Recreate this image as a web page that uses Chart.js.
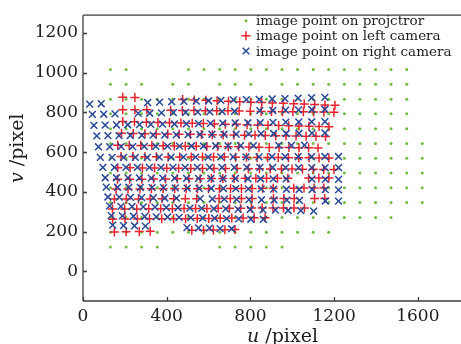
<!DOCTYPE html>
<html lang="en">
<head>
<meta charset="UTF-8">
<title>image points</title>
<style>
  html, body { margin: 0; padding: 0; overflow: hidden; background: #fff; }
  #wrap { width: 466px; height: 344px; }
</style>
</head>
<body>
<div id="wrap"><canvas id="myChart"></canvas></div>
<script src="https://cdn.jsdelivr.net/npm/chart.js"></script>
<script>
const xTicks = [0, 400, 800, 1200, 1600];
const yTicks = [0, 200, 400, 600, 800, 1000, 1200];
const seriesNames = ["image point on projctror", "image point on left camera", "image point on right camera"];

// projector grid: column positions, row positions, and which columns show in each row
const projCols = [131, 206, 280, 355, 429, 504, 578, 653, 727, 802, 876, 951, 1025, 1100, 1174, 1249, 1323, 1398, 1472, 1547, 1621];
const projRowY = [1016, 942, 867, 793, 718, 644, 569, 495, 420, 346, 271, 197, 122];
const projRowCols = [
  [0, 1, 5, 6, 7, 8, 9, 10, 11, 12, 13, 14, 15, 16, 17, 18, 19],
  [0, 1, 2, 4, 5, 7, 8, 9, 11, 12, 13, 14, 15, 16, 17, 18, 19],
  [0, 1, 2, 3, 4, 5, 6, 7, 8, 9, 10, 11, 12, 13, 14, 15, 16, 17, 18, 19],
  [0, 1, 2, 3, 4, 5, 6, 7, 8, 9, 10, 11, 12, 13, 14, 15, 16, 17, 18, 19],
  [0, 1, 2, 3, 4, 5, 6, 7, 8, 9, 10, 11, 12, 13, 14, 15, 16, 17, 18, 19],
  [0, 1, 2, 3, 4, 5, 6, 7, 8, 9, 10, 11, 12, 13, 14, 15, 16, 17, 18, 19, 20],
  [0, 1, 2, 3, 4, 5, 6, 7, 8, 9, 10, 11, 12, 13, 14, 15, 16, 17, 18, 19, 20],
  [0, 1, 2, 3, 4, 5, 6, 7, 8, 9, 10, 11, 12, 13, 14, 15, 16, 17, 18, 19, 20],
  [0, 1, 2, 3, 4, 5, 6, 7, 8, 9, 10, 11, 12, 13, 14, 15, 16, 17, 18, 19, 20],
  [0, 1, 2, 3, 4, 5, 6, 7, 8, 9, 10, 11, 12, 13, 14, 15, 16, 17, 18, 19, 20],
  [0, 1, 2, 3, 4, 5, 6, 7, 8, 9, 10, 11, 12, 13, 14, 15, 16, 17, 18],
  [0, 1, 2, 3, 4, 5, 6, 7, 8, 9, 10, 11, 12, 13, 14],
  [0, 1, 2, 3, 7, 8, 9, 10, 11]
];

// left camera (red +), one row per line: [x values], [y values]
const leftCamRows = [
  [[190, 248, 476, 532, 587, 641, 695, 749, 802, 854, 905, 957, 1007, 1057, 1107, 1156, 1204], [877, 875, 865, 863, 861, 859, 857, 854, 852, 850, 848, 846, 844, 842, 840, 838, 836]],
  [[190, 248, 305, 419, 475, 530, 585, 639, 693, 746, 799, 851, 901, 953, 1003, 1053, 1102, 1151, 1199], [814, 813, 813, 811, 810, 810, 809, 808, 808, 807, 806, 805, 805, 804, 804, 803, 802, 802, 801]],
  [[190, 246, 303, 358, 413, 468, 522, 575, 628, 680, 733, 784, 835, 884, 935, 983, 1032, 1080, 1128, 1175], [754, 753, 751, 750, 748, 747, 745, 744, 742, 741, 740, 738, 737, 736, 734, 733, 732, 730, 729, 728]],
  [[184, 240, 296, 350, 405, 459, 513, 566, 618, 670, 721, 772, 822, 871, 921, 970, 1018, 1066, 1113, 1159], [695, 694, 693, 692, 691, 690, 690, 689, 688, 687, 686, 685, 685, 684, 683, 682, 681, 680, 680, 679]],
  [[166, 221, 276, 329, 383, 436, 489, 541, 592, 643, 694, 744, 793, 841, 890, 937, 984, 1032, 1078, 1123], [635, 634, 633, 633, 632, 631, 630, 630, 629, 628, 627, 627, 626, 625, 624, 624, 623, 622, 622, 621]],
  [[182, 239, 296, 351, 407, 462, 517, 571, 624, 676, 729, 781, 832, 882, 933, 982, 1031, 1080, 1128, 1175], [578, 578, 577, 577, 576, 576, 576, 575, 575, 575, 574, 574, 573, 573, 573, 572, 572, 572, 571, 571]],
  [[166, 225, 284, 342, 400, 457, 515, 571, 626, 681, 736, 790, 843, 895, 948, 999, 1049, 1100, 1150, 1199], [521, 521, 520, 520, 519, 519, 518, 518, 517, 517, 517, 516, 516, 515, 515, 515, 514, 514, 513, 513]],
  [[165, 223, 281, 337, 394, 450, 506, 560, 614, 668, 722, 775, 826, 877, 929, 979, 1078, 1127, 1175], [464, 464, 464, 465, 465, 466, 466, 466, 467, 467, 467, 468, 468, 468, 469, 469, 470, 470, 470]],
  [[158, 215, 272, 327, 383, 438, 493, 547, 600, 652, 705, 757, 808, 858, 909, 1007, 1056, 1104, 1151], [414, 414, 414, 415, 415, 415, 416, 416, 416, 416, 417, 417, 417, 418, 418, 418, 419, 419, 419]],
  [[150, 207, 265, 321, 378, 433, 489, 543, 650, 704, 757, 808, 910, 960, 1009, 1107, 1155], [364, 364, 364, 364, 365, 365, 365, 365, 366, 366, 366, 366, 366, 367, 367, 367, 367]],
  [[141, 199, 257, 314, 371, 427, 483, 538, 592, 646, 700, 753, 805, 856, 908, 958, 1008, 1058], [314, 314, 314, 315, 315, 315, 316, 316, 316, 317, 317, 317, 318, 318, 318, 319, 319, 319]],
  [[142, 201, 260, 318, 376, 433, 490, 546, 601, 656, 711, 765, 818, 870], [262, 263, 263, 264, 264, 265, 265, 266, 266, 267, 268, 268, 269, 270]],
  [[150, 206, 269, 321, 520, 576, 623, 678, 726], [198, 199, 200, 201, 206, 207, 208, 209, 210]]
];

// right camera (blue x)
const rightCamRows = [
  [[32, 87, 309, 366, 424, 482, 541, 600, 659, 719, 781, 842, 904, 965, 1028, 1092, 1156], [842, 844, 850, 852, 854, 856, 857, 859, 861, 863, 865, 866, 868, 870, 872, 874, 876]],
  [[45, 99, 153, 264, 319, 375, 432, 490, 548, 606, 665, 724, 845, 907, 968, 1030, 1093, 1156], [790, 791, 793, 795, 796, 798, 799, 800, 802, 803, 805, 806, 809, 810, 812, 813, 815, 816]],
  [[52, 106, 160, 214, 270, 324, 380, 437, 494, 552, 609, 668, 727, 788, 847, 908, 969, 1031, 1093, 1156], [735, 736, 737, 738, 739, 740, 741, 742, 743, 744, 745, 746, 747, 748, 749, 750, 751, 752, 753, 754]],
  [[66, 119, 172, 226, 281, 335, 390, 446, 502, 559, 616, 674, 732, 792, 851, 911, 971, 1032, 1094, 1156], [682, 683, 683, 684, 685, 686, 686, 687, 688, 689, 690, 690, 691, 692, 693, 694, 694, 695, 696, 697]],
  [[74, 128, 182, 237, 293, 348, 404, 461, 518, 576, 634, 693, 753, 814, 935, 996, 1058], [627, 627, 628, 628, 629, 629, 630, 630, 631, 631, 632, 632, 633, 633, 634, 634, 635]],
  [[83, 139, 194, 250, 307, 364, 421, 480, 538, 598, 658, 718, 779, 841, 903, 966, 1028, 1092, 1156, 1221], [574, 574, 574, 574, 574, 575, 575, 575, 575, 575, 576, 576, 576, 576, 577, 577, 577, 577, 578, 578]],
  [[95, 150, 205, 260, 317, 373, 430, 488, 546, 605, 664, 723, 783, 845, 906, 968, 1030, 1093, 1157, 1221], [523, 523, 523, 523, 523, 523, 523, 523, 523, 523, 523, 523, 523, 523, 523, 522, 522, 522, 522, 522]],
  [[106, 160, 215, 269, 326, 381, 438, 495, 552, 611, 669, 728, 788, 849, 909, 971, 1094, 1158, 1221], [471, 471, 470, 470, 469, 469, 469, 468, 468, 467, 467, 467, 466, 466, 465, 465, 464, 463, 463]],
  [[111, 165, 219, 274, 330, 385, 441, 498, 555, 613, 671, 730, 790, 851, 911, 972, 1033, 1095, 1158, 1221], [424, 423, 423, 422, 421, 421, 420, 419, 418, 418, 417, 416, 415, 415, 414, 413, 412, 412, 411, 410]],
  [[119, 173, 227, 280, 336, 391, 447, 560, 618, 675, 734, 793, 853, 913, 974, 1034, 1158, 1221], [374, 373, 372, 371, 370, 369, 368, 366, 364, 363, 362, 361, 360, 359, 358, 357, 354, 353]],
  [[127, 181, 234, 288, 344, 398, 454, 511, 567, 625, 682, 741, 799, 860, 920, 980, 1041, 1102], [329, 327, 326, 324, 323, 321, 320, 318, 317, 315, 314, 312, 311, 309, 308, 306, 305, 303]],
  [[135, 188, 241, 295, 350, 404, 459, 515, 572, 629, 686, 744, 802, 862], [280, 279, 277, 276, 274, 273, 271, 270, 268, 267, 265, 264, 262, 261]],
  [[142, 194, 246, 298, 497, 552, 604, 655, 710], [232, 230, 229, 227, 220, 218, 217, 215, 214]]
];

const GREEN = "#70bd42";
const RED = "#e8232d";
const BLUE = "#2a4898";
const FRAME = "#3c3c3c";
const SERIF = "'DejaVu Serif', serif";

function toPoints(rows) {
  let pts = [];
  rows.forEach(r => r[0].forEach((x, i) => pts.push({ x: x, y: r[1][i] })));
  return pts;
}

let projPts = [];
projRowY.forEach((y, r) => projRowCols[r].forEach(c => projPts.push({ x: projCols[c], y: y })));

// frame, inward ticks, axis titles and legend
const decor = {
  id: "decor",
  afterDraw(chart) {
    const ctx = chart.ctx;
    const a = chart.chartArea;
    const sx = chart.scales.x, sy = chart.scales.y;
    ctx.save();
    ctx.strokeStyle = FRAME;
    ctx.lineWidth = 1.3;
    ctx.beginPath();
    ctx.moveTo(a.left, a.top); ctx.lineTo(a.right + 5, a.top);
    ctx.moveTo(a.left, a.top); ctx.lineTo(a.left, a.bottom);
    ctx.moveTo(a.left, a.bottom); ctx.lineTo(a.right + 5, a.bottom);
    yTicks.forEach(v => {
      const p = Math.round(sy.getPixelForValue(v)) + 0.5;
      ctx.moveTo(a.left, p); ctx.lineTo(a.left + 4, p);
    });
    xTicks.forEach(v => {
      const p = Math.round(sx.getPixelForValue(v)) + 0.5;
      ctx.moveTo(p, a.bottom); ctx.lineTo(p, a.bottom - 4);
    });
    ctx.stroke();

    // axis titles
    ctx.fillStyle = "#1e1e1e";
    ctx.textBaseline = "alphabetic";
    ctx.textAlign = "left";
    ctx.font = "italic 19px " + SERIF;
    let w1 = ctx.measureText("u").width;
    ctx.fillText("u", 247, 342);
    ctx.font = "19px " + SERIF;
    ctx.fillText(" /pixel", 247 + w1, 342);

    ctx.translate(23, 183);
    ctx.rotate(-Math.PI / 2);
    ctx.font = "italic 19px " + SERIF;
    w1 = ctx.measureText("v").width;
    ctx.fillText("v", 0, 0);
    ctx.font = "19px " + SERIF;
    ctx.fillText(" /pixel", w1, 0);
    ctx.setTransform(1, 0, 0, 1, 0, 0);

    // legend
    const rows = [20.7, 35.7, 51];
    ctx.font = "13.5px " + SERIF;
    ctx.textBaseline = "middle";
    seriesNames.forEach((name, i) => {
      const y = rows[i], x = 246;
      ctx.lineWidth = 1.5;
      if (i === 0) {
        ctx.fillStyle = GREEN;
        ctx.beginPath(); ctx.arc(x, y, 1.5, 0, Math.PI * 2); ctx.fill();
      } else if (i === 1) {
        ctx.strokeStyle = RED;
        ctx.beginPath();
        ctx.moveTo(x - 4.5, y); ctx.lineTo(x + 4.5, y);
        ctx.moveTo(x, y - 4.5); ctx.lineTo(x, y + 4.5);
        ctx.stroke();
      } else {
        ctx.strokeStyle = BLUE;
        ctx.beginPath();
        ctx.moveTo(x - 3.3, y - 3.3); ctx.lineTo(x + 3.3, y + 3.3);
        ctx.moveTo(x - 3.3, y + 3.3); ctx.lineTo(x + 3.3, y - 3.3);
        ctx.stroke();
      }
      ctx.fillStyle = "#1e1e1e";
      ctx.fillText(name, 256, y + 1);
    });
    ctx.restore();
  }
};

const ctx = document.getElementById("myChart");

new Chart(ctx, {
  type: "scatter",
  data: {
    datasets: [
      {
        label: seriesNames[0],
        data: projPts,
        pointStyle: "circle",
        pointRadius: 1.5,
        pointBackgroundColor: GREEN,
        pointBorderWidth: 0,
        order: 3
      },
      {
        label: seriesNames[1],
        data: toPoints(leftCamRows),
        pointStyle: "cross",
        pointRadius: 4.5,
        pointBorderColor: RED,
        pointBorderWidth: 1.5,
        order: 2
      },
      {
        label: seriesNames[2],
        data: toPoints(rightCamRows),
        pointStyle: "crossRot",
        pointRadius: 4.8,
        pointBorderColor: BLUE,
        pointBorderWidth: 1.5,
        order: 1
      }
    ]
  },
  options: {
    responsive: true,
    maintainAspectRatio: false,
    animation: false,
    events: [],
    layout: { padding: { top: 12, right: 3, left: 0, bottom: 0 } },
    plugins: { legend: { display: false }, tooltip: { enabled: false } },
    scales: {
      x: {
        type: "linear",
        min: 0,
        max: 1800,
        afterBuildTicks: s => { s.ticks = xTicks.map(v => ({ value: v })); },
        afterFit: s => { s.height = 43; },
        grid: { display: false, drawTicks: false },
        border: { display: false },
        ticks: { font: { family: SERIF, size: 17 }, color: "#1e1e1e", padding: 5, maxRotation: 0, callback: v => String(v) }
      },
      y: {
        type: "linear",
        min: -150,
        max: 1290,
        afterBuildTicks: s => { s.ticks = yTicks.map(v => ({ value: v })); },
        afterFit: s => { s.width = 83; },
        grid: { display: false, drawTicks: false },
        border: { display: false },
        ticks: { font: { family: SERIF, size: 17 }, color: "#1e1e1e", padding: 5, callback: v => String(v) }
      }
    }
  },
  plugins: [decor]
});
</script>
</body>
</html>
